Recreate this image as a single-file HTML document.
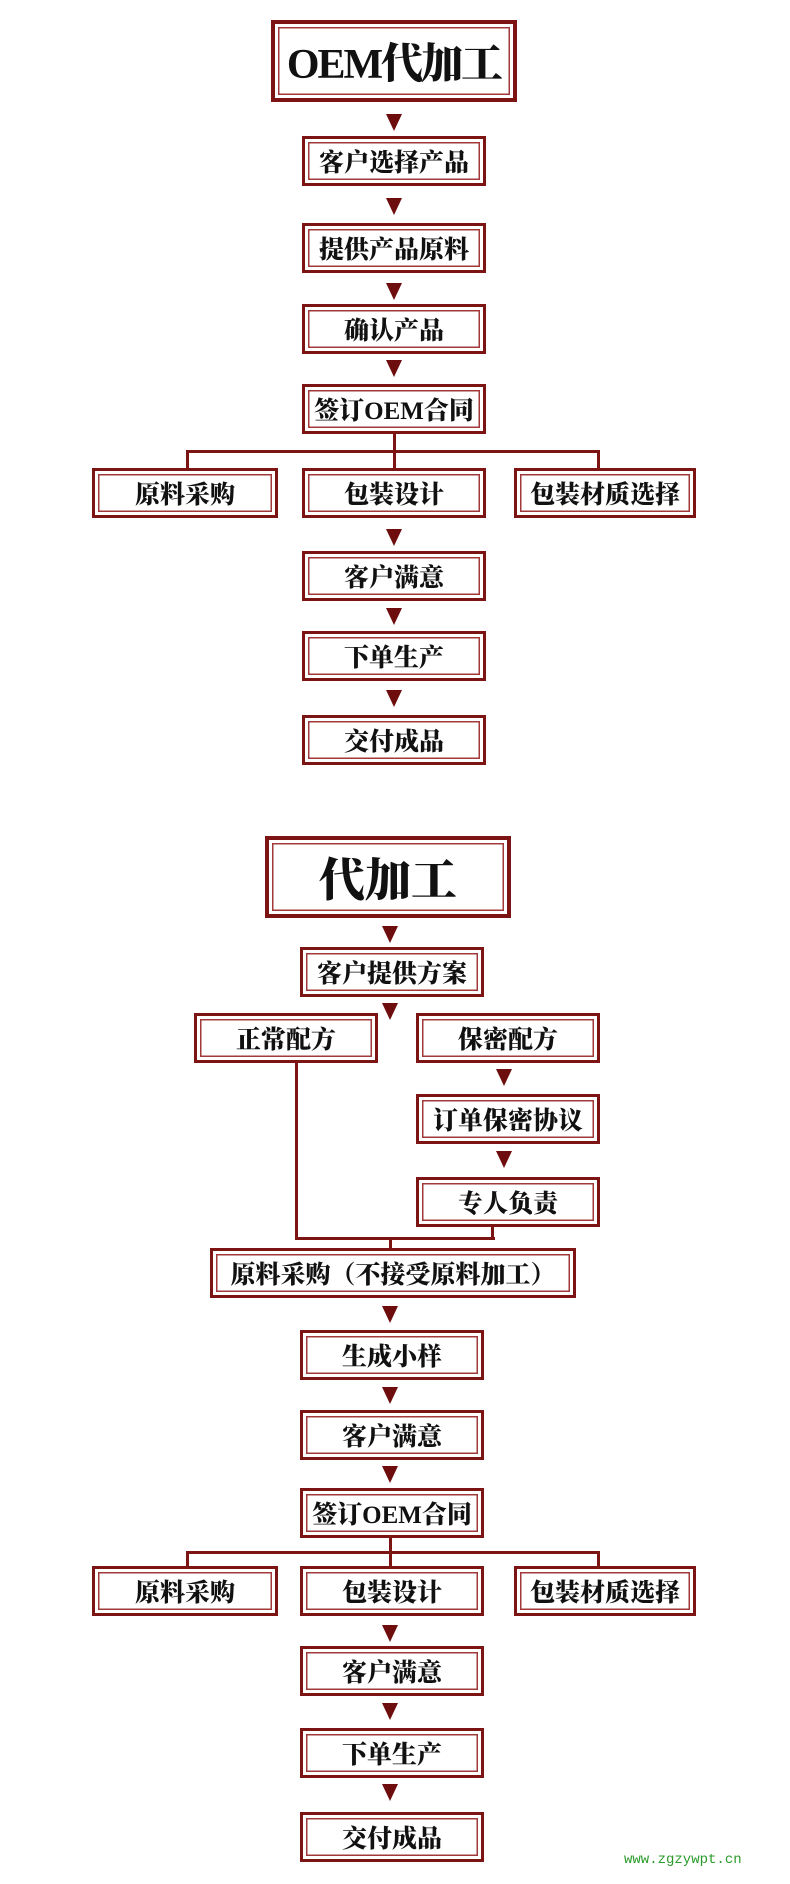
<!DOCTYPE html>
<html><head><meta charset="utf-8"><style>
body{margin:0;width:790px;height:1884px;background:#fff;position:relative;overflow:hidden}
.b{position:absolute;box-sizing:border-box;border:3px solid #7d1414;box-shadow:inset 0 0 0 3px #fff,inset 0 0 0 4.5px #a03a3a;display:flex;align-items:center;justify-content:center;font-family:"Liberation Serif","Noto Serif CJK SC",serif;font-weight:900;font-size:25px;color:#111;height:50px;width:184px;white-space:nowrap}
.t{height:82px;width:246px;font-size:46px;border-width:4px}
.t1{font-size:42px;letter-spacing:-2px}
.a{position:absolute;width:0;height:0;border-left:8px solid transparent;border-right:8px solid transparent;border-top:17px solid #6e0d0d;margin-left:-8px}
.l{position:absolute;background:#7d1414}
.w{position:absolute;left:624px;top:1852px;font-family:"Liberation Mono",monospace;font-size:14px;color:#2a9a2a}
</style></head><body>
<div class="b t t1" style="left:271px;top:20px">OEM代加工</div>
<div class="a" style="left:394px;top:114px"></div>
<div class="b" style="left:302px;top:136px">客户选择产品</div>
<div class="a" style="left:394px;top:198px"></div>
<div class="b" style="left:302px;top:223px">提供产品原料</div>
<div class="a" style="left:394px;top:283px"></div>
<div class="b" style="left:302px;top:304px">确认产品</div>
<div class="a" style="left:394px;top:360px"></div>
<div class="b" style="left:302px;top:384px">签订OEM合同</div>
<div class="l" style="left:393px;top:434px;width:3px;height:34px"></div>
<div class="l" style="left:186px;top:450px;width:414px;height:3px"></div>
<div class="l" style="left:186px;top:450px;width:3px;height:18px"></div>
<div class="l" style="left:597px;top:450px;width:3px;height:18px"></div>
<div class="b" style="left:92px;top:468px;width:186px">原料采购</div>
<div class="b" style="left:302px;top:468px">包装设计</div>
<div class="b" style="left:514px;top:468px;width:182px">包装材质选择</div>
<div class="a" style="left:394px;top:529px"></div>
<div class="b" style="left:302px;top:551px">客户满意</div>
<div class="a" style="left:394px;top:608px"></div>
<div class="b" style="left:302px;top:631px">下单生产</div>
<div class="a" style="left:394px;top:690px"></div>
<div class="b" style="left:302px;top:715px">交付成品</div>

<div class="b t" style="left:265px;top:836px">代加工</div>
<div class="a" style="left:390px;top:926px"></div>
<div class="b" style="left:300px;top:947px">客户提供方案</div>
<div class="a" style="left:390px;top:1003px"></div>
<div class="b" style="left:194px;top:1013px">正常配方</div>
<div class="b" style="left:416px;top:1013px">保密配方</div>
<div class="a" style="left:504px;top:1069px"></div>
<div class="b" style="left:416px;top:1094px">订单保密协议</div>
<div class="a" style="left:504px;top:1151px"></div>
<div class="b" style="left:416px;top:1177px">专人负责</div>
<div class="l" style="left:295px;top:1063px;width:3px;height:177px"></div>
<div class="l" style="left:295px;top:1237px;width:200px;height:3px"></div>
<div class="l" style="left:491px;top:1227px;width:3px;height:12px"></div>
<div class="l" style="left:389px;top:1238px;width:3px;height:10px"></div>
<div class="b" style="left:210px;top:1248px;width:366px">原料采购（不接受原料加工）</div>
<div class="a" style="left:390px;top:1306px"></div>
<div class="b" style="left:300px;top:1330px">生成小样</div>
<div class="a" style="left:390px;top:1387px"></div>
<div class="b" style="left:300px;top:1410px">客户满意</div>
<div class="a" style="left:390px;top:1466px"></div>
<div class="b" style="left:300px;top:1488px">签订OEM合同</div>
<div class="l" style="left:389px;top:1538px;width:3px;height:28px"></div>
<div class="l" style="left:186px;top:1551px;width:414px;height:3px"></div>
<div class="l" style="left:186px;top:1551px;width:3px;height:15px"></div>
<div class="l" style="left:597px;top:1551px;width:3px;height:15px"></div>
<div class="b" style="left:92px;top:1566px;width:186px">原料采购</div>
<div class="b" style="left:300px;top:1566px">包装设计</div>
<div class="b" style="left:514px;top:1566px;width:182px">包装材质选择</div>
<div class="a" style="left:390px;top:1625px"></div>
<div class="b" style="left:300px;top:1646px">客户满意</div>
<div class="a" style="left:390px;top:1703px"></div>
<div class="b" style="left:300px;top:1728px">下单生产</div>
<div class="a" style="left:390px;top:1784px"></div>
<div class="b" style="left:300px;top:1812px">交付成品</div>
<div class="w">www.zgzywpt.cn</div>
</body></html>
